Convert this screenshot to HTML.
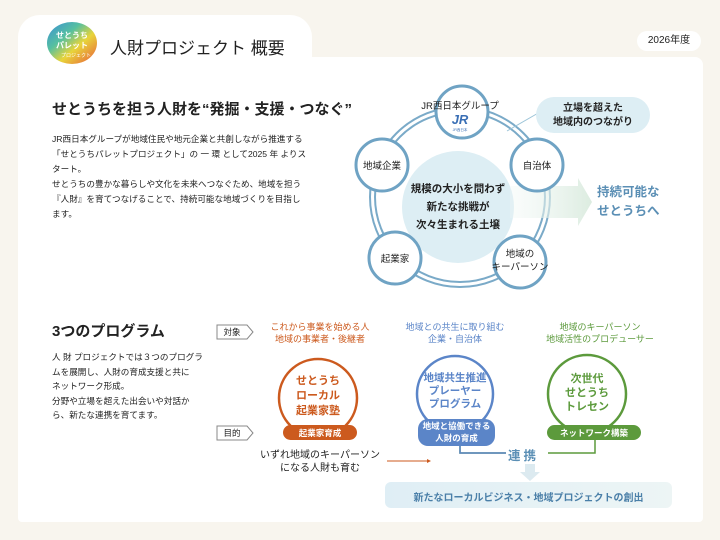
<!DOCTYPE html>
<html><head><meta charset="utf-8"><style>
body{margin:0;width:720px;height:540px;background:#f8f5ee;position:relative;overflow:hidden;font-family:"Liberation Sans","Noto Sans CJK JP",sans-serif;color:#222}
.a{position:absolute;white-space:nowrap}
.p{font-size:8.6px;line-height:15px}
</style></head><body>
<div class="a" style="left:18px;top:15px;width:294px;height:60px;background:#fff;border-radius:22px 22px 0 0"></div>
<div class="a" style="left:18px;top:57px;width:685px;height:465px;background:#fff;border-radius:0 8px 4px 4px"></div>
<div class="a" style="left:637px;top:31px;width:64px;height:20px;background:#fff;border-radius:10px;font-size:10px;line-height:20px;text-align:center">2026年度</div>
<svg class="a" style="left:0;top:0" width="720" height="540">
<defs>
<linearGradient id="rb" x1="0" y1="0" x2="1" y2="1"><stop offset="0" stop-color="#3a8fd8"/><stop offset=".35" stop-color="#56c0a0"/><stop offset=".6" stop-color="#e8d43a"/><stop offset="1" stop-color="#e85a3a"/></linearGradient>
<linearGradient id="ar" x1="0" x2="1"><stop offset="0" stop-color="#eef6f3" stop-opacity=".3"/><stop offset="1" stop-color="#dcece0"/></linearGradient>
<linearGradient id="bx" x1="0" x2="1"><stop offset="0" stop-color="#dfeef5"/><stop offset="1" stop-color="#edf5f5"/></linearGradient>
</defs>
<ellipse cx="72" cy="43" rx="25" ry="21" fill="url(#rb)"/>
<text x="72" y="38" font-size="8" font-weight="bold" fill="#fff" text-anchor="middle">せとうち</text>
<text x="72" y="48" font-size="8" font-weight="bold" fill="#fff" text-anchor="middle">パレット</text>
<text x="76" y="57" font-size="5" fill="#fff" text-anchor="middle">プロジェクト</text>
<!-- ring -->
<circle cx="460" cy="197" r="90" fill="none" stroke="#7aaac8" stroke-width="2"/>
<circle cx="460" cy="197" r="85" fill="none" stroke="#7aaac8" stroke-width="2"/>
<circle cx="458" cy="207" r="56" fill="#ddeef4"/>
<polygon points="510,186 578,186 578,178 592,202 578,226 578,218 510,218" fill="url(#ar)"/>
<line x1="507" y1="131" x2="540" y2="112" stroke="#9cc4d8" stroke-width="1"/>
<rect x="536" y="97" width="114" height="36" rx="18" fill="#ddeef4"/>
<g fill="#fff" stroke="#6fa3c4" stroke-width="3">
<circle cx="462" cy="112" r="26"/><circle cx="382" cy="165" r="26"/><circle cx="537" cy="165" r="26"/><circle cx="395" cy="258" r="26"/><circle cx="520" cy="262" r="26"/>
</g>
<text x="460" y="124" font-size="13" font-weight="bold" font-style="italic" fill="#3a6fb5" text-anchor="middle">JR</text>
<text x="460" y="131" font-size="3.5" fill="#3a6fb5" text-anchor="middle">JR西日本</text>
<!-- programs -->
<circle cx="318" cy="398" r="39" fill="#fff" stroke="#cc5a1e" stroke-width="2.5"/>
<circle cx="455" cy="394" r="38" fill="#fff" stroke="#5b85c8" stroke-width="2.5"/>
<circle cx="587" cy="394" r="39" fill="#fff" stroke="#5c9a3c" stroke-width="2.5"/>
<rect x="283" y="425" width="74" height="15" rx="7.5" fill="#cc5a1e"/>
<rect x="418" y="419" width="77" height="27" rx="10" fill="#5b85c8"/>
<rect x="547" y="425" width="94" height="15" rx="7.5" fill="#5c9a3c"/>
<path d="M460 446V453H506M595 440V453H548" fill="none" stroke="#5c9a3c" stroke-width="1.5"/>
<path d="M460 446V453H506" fill="none" stroke="#5b85c8" stroke-width="1.5"/>
<line x1="387" y1="461" x2="428" y2="461" stroke="#cc5a1e" stroke-width="1"/>
<polygon points="427,459 431,461 427,463" fill="#cc5a1e"/>
<polygon points="525,464 535,464 535,472 540,472 530,481 520,472 525,472" fill="#dceaf0"/>
<rect x="385" y="482" width="287" height="26" rx="6" fill="url(#bx)"/>
<g fill="#fff" stroke="#888" stroke-width="1"><polygon points="217,325 247,325 253,332 247,339 217,339"/><polygon points="217,426 247,426 253,433 247,440 217,440"/></g>
</svg>
<div class="a" style="left:110px;top:34px;font-size:17px">人財プロジェクト 概要</div>
<div class="a" style="left:52px;top:98px;font-size:15px;font-weight:bold">せとうちを担う人財を“発掘・支援・つなぐ”</div>
<div class="a p" style="left:52px;top:132px">JR西日本グループが地域住民や地元企業と共創しながら推進する<br>「せとうちパレットプロジェクト」の 一 環 として2025 年 よりス<br>タート。<br>せとうちの豊かな暮らしや文化を未来へつなぐため、地域を担う<br>『人財』を育てつなげることで、持続可能な地域づくりを目指し<br>ます。</div>
<div class="a" style="left:400px;top:98px;width:120px;text-align:center;font-size:9.5px">JR西日本グループ</div>
<div class="a" style="left:352px;top:158px;width:60px;text-align:center;font-size:9.5px">地域企業</div>
<div class="a" style="left:507px;top:158px;width:60px;text-align:center;font-size:9.5px">自治体</div>
<div class="a" style="left:365px;top:251px;width:60px;text-align:center;font-size:9.5px">起業家</div>
<div class="a" style="left:480px;top:248px;width:80px;text-align:center;font-size:9.5px;line-height:13px">地域の<br>キーパーソン</div>
<div class="a" style="left:400px;top:180px;width:116px;text-align:center;font-size:10.5px;font-weight:bold;line-height:18px">規模の大小を問わず<br>新たな挑戦が<br>次々生まれる土壌</div>
<div class="a" style="left:536px;top:102px;width:114px;text-align:center;font-size:10px;font-weight:bold;line-height:14px">立場を超えた<br>地域内のつながり</div>
<div class="a" style="left:597px;top:183px;font-size:12.5px;font-weight:bold;color:#5b8fb5;line-height:19px">持続可能な<br>せとうちへ</div>
<div class="a" style="left:52px;top:320px;font-size:15px;font-weight:bold">3つのプログラム</div>
<div class="a p" style="left:52px;top:350px;line-height:14.5px">人 財 プロジェクトでは３つのプログラ<br>ムを展開し、人財の育成支援と共に<br>ネットワーク形成。<br>分野や立場を超えた出会いや対話か<br>ら、新たな連携を育てます。</div>
<div class="a" style="left:217px;top:326px;width:30px;text-align:center;font-size:8.5px">対象</div>
<div class="a" style="left:217px;top:427px;width:30px;text-align:center;font-size:8.5px">目的</div>
<div class="a" style="left:250px;top:321px;width:140px;text-align:center;font-size:9px;line-height:12px;color:#cc5a1e">これから事業を始める人<br>地域の事業者・後継者</div>
<div class="a" style="left:390px;top:321px;width:130px;text-align:center;font-size:9px;line-height:12px;color:#5b85c8">地域との共生に取り組む<br>企業・自治体</div>
<div class="a" style="left:530px;top:321px;width:140px;text-align:center;font-size:9px;line-height:12px;color:#5c9a3c">地域のキーパーソン<br>地域活性のプロデューサー</div>
<div class="a" style="left:278px;top:374px;width:80px;text-align:center;font-size:11px;font-weight:bold;line-height:15px;color:#cc5a1e">せとうち<br>ローカル<br>起業家塾</div>
<div class="a" style="left:410px;top:372px;width:90px;text-align:center;font-size:10.5px;font-weight:bold;line-height:13px;color:#5b85c8">地域共生推進<br>プレーヤー<br>プログラム</div>
<div class="a" style="left:547px;top:372px;width:80px;text-align:center;font-size:11px;font-weight:bold;line-height:14px;color:#5c9a3c">次世代<br>せとうち<br>トレセン</div>
<div class="a" style="left:283px;top:427px;width:74px;text-align:center;font-size:8.5px;font-weight:bold;color:#fff">起業家育成</div>
<div class="a" style="left:418px;top:420px;width:77px;text-align:center;font-size:8.5px;font-weight:bold;line-height:12px;color:#fff">地域と協働できる<br>人財の育成</div>
<div class="a" style="left:547px;top:427px;width:94px;text-align:center;font-size:8.5px;font-weight:bold;color:#fff">ネットワーク構築</div>
<div class="a" style="left:255px;top:449px;width:130px;text-align:center;font-size:10px;line-height:13px">いずれ地域のキーパーソン<br>になる人財も育む</div>
<div class="a" style="left:508px;top:445px;font-size:12.5px;font-weight:bold;color:#5b8fb5;letter-spacing:3px;background:#fff">連携</div>
<div class="a" style="left:385px;top:489px;width:287px;text-align:center;font-size:10px;font-weight:bold;color:#4a7fa8">新たなローカルビジネス・地域プロジェクトの創出</div>
</body></html>
